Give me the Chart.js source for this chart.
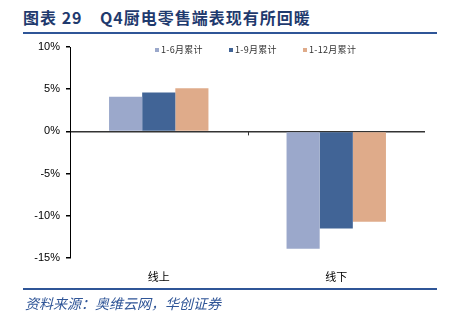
<!DOCTYPE html>
<html>
<head>
<meta charset="utf-8">
<script src="https://cdn.jsdelivr.net/npm/chart.js@4.4.1/dist/chart.umd.min.js"></script>
<style>
  html, body { margin: 0; padding: 0; background: #fff; }
  #wrap { position: relative; width: 453px; height: 322px; overflow: hidden; }
  #chart { position: absolute; left: 0; top: 0; }
  .title { position: absolute; top: 5px; font: bold 16px "Noto Sans CJK SC", sans-serif; color: #1f3a6e; white-space: nowrap; letter-spacing: 1px; }
  .rule { position: absolute; left: 23px; width: 414px; height: 2px; background: #2f5597; }
  .source { position: absolute; left: 25px; top: 293px; font: italic 14px "Noto Sans CJK SC", sans-serif; color: #2f5597; }
  .leg { position: absolute; top: 43px; font: 9px "Noto Sans CJK SC", sans-serif; color: #333; white-space: nowrap; letter-spacing: 0.3px; }
  .leg i { display: inline-block; width: 4px; height: 4px; margin-right: 2px; vertical-align: 1px; }
</style>
</head>
<body>
<div id="wrap">
  <div class="title" style="left:23px">图表 29</div>
  <div class="title" style="left:100px">Q4厨电零售端表现有所回暖</div>
  <div class="rule" style="top:32px"></div>
  <canvas id="chart" width="453" height="322"></canvas>
  <div id="legend"></div>
  <div class="rule" style="top:288px"></div>
  <div class="source">资料来源：奥维云网，华创证券</div>
</div>
<script>
// 数据
const categories = ['线上', '线下'];
const seriesNames = ['1-6月累计', '1-9月累计', '1-12月累计'];
const h1 = [4.1, -13.9];
const q3 = [4.6, -11.5];
const fullYear = [5.1, -10.7];
const colors = ['#9ba8cb', '#416496', '#dfab8a'];

// 图例
const legendX = [155, 229, 303];
document.getElementById('legend').innerHTML = seriesNames.map((n, i) =>
  '<span class="leg" style="left:' + legendX[i] + 'px"><i style="background:' + colors[i] + '"></i>' + n + '</span>'
).join('');

// 零线上的分类刻度
const midTick = {
  id: 'midTick',
  afterDatasetsDraw(chart) {
    const x = chart.scales.x, y = chart.scales.y;
    const ctx = chart.ctx;
    const y0 = y.getPixelForValue(0);
    ctx.save();
    ctx.strokeStyle = '#333';
    ctx.lineWidth = 1;
    for (let i = 1; i < categories.length; i++) {
      const px = Math.round((x.getPixelForValue(i - 1) + x.getPixelForValue(i)) / 2) + 0.5;
      ctx.beginPath();
      ctx.moveTo(px, y0);
      ctx.lineTo(px, y0 + 4);
      ctx.stroke();
    }
    ctx.restore();
  }
};

new Chart(document.getElementById('chart'), {
  type: 'bar',
  data: {
    labels: categories,
    datasets: [h1, q3, fullYear].map((d, i) => ({
      label: seriesNames[i],
      data: d,
      backgroundColor: colors[i],
      borderWidth: 0,
      categoryPercentage: 0.56,
      barPercentage: 1
    }))
  },
  options: {
    responsive: false,
    animation: false,
    layout: { padding: { left: 0, right: 28, top: 47, bottom: 0 } },
    plugins: {
      tooltip: { enabled: false },
      legend: { display: false }
    },
    scales: {
      x: {
        grid: { display: false },
        border: { display: false },
        ticks: { color: '#000', font: { size: 11, family: '"Noto Sans CJK SC", sans-serif' }, padding: 4 },
        afterFit: s => { s.height = 322 - 258; }
      },
      y: {
        min: -15,
        max: 10,
        ticks: {
          stepSize: 5,
          color: '#000',
          padding: 6,
          font: { size: 11, family: '"Liberation Sans", Arial, sans-serif' },
          callback: v => v + '%'
        },
        grid: {
          color: c => c.tick && c.tick.value === 0 ? '#333' : 'rgba(0,0,0,0)',
          lineWidth: 1.5,
          tickColor: '#000',
          tickLength: 4
        },
        border: { display: true, color: '#000', width: 1 },
        afterFit: s => { s.width = 70; }
      }
    }
  },
  plugins: [midTick]
});
</script>
</body>
</html>
